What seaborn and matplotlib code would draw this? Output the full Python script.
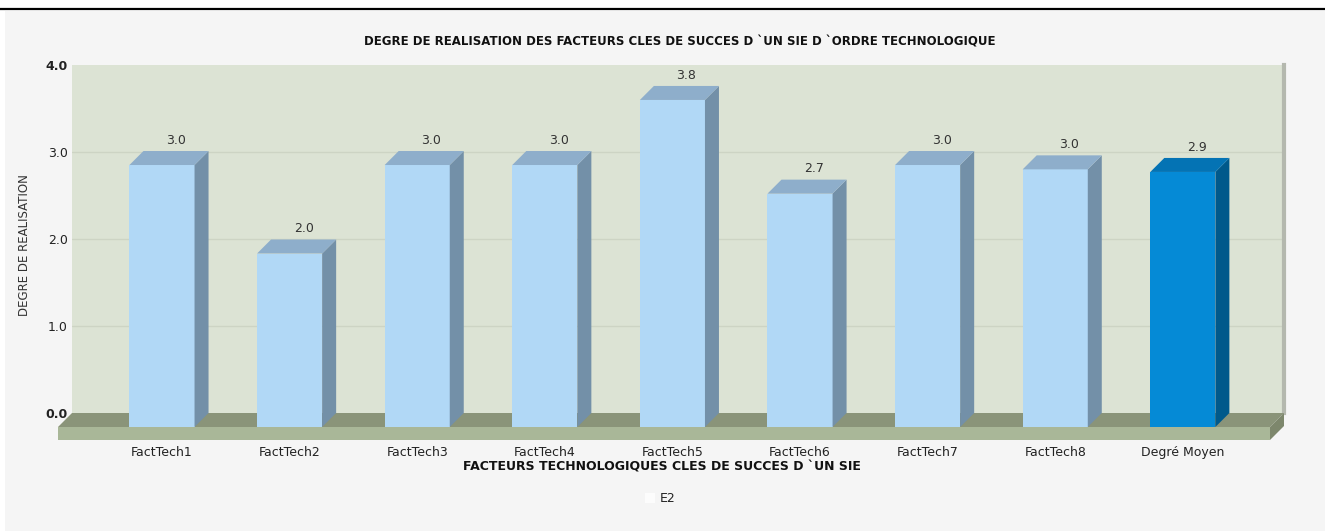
import matplotlib
matplotlib.use("Agg")
import matplotlib.pyplot as plt
import seaborn as sns
from matplotlib.patches import Polygon, Rectangle, Patch
from matplotlib.lines import Line2D

# ---- data ----
categories = ["FactTech1", "FactTech2", "FactTech3", "FactTech4", "FactTech5",
              "FactTech6", "FactTech7", "FactTech8", "Degré Moyen"]
values = [3.02, 2.00, 3.02, 3.02, 3.77, 2.69, 3.02, 2.97, 2.94]
y_ticks = [0, 1, 2, 3, 4]
y_tick_labels = ["0.0", "1.0", "2.0", "3.0", "4.0"]
series_name = "E2"
title = "DEGRE DE REALISATION DES FACTEURS CLES DE SUCCES D `UN SIE D `ORDRE TECHNOLOGIQUE"
x_title = "FACTEURS TECHNOLOGIQUES CLES DE SUCCES D `UN SIE"
y_title = "DEGRE DE REALISATION"

# ---- styling ----
W, H = 1325, 531
BAR_FRONT, BAR_SIDE, BAR_TOP = "#b1d8f6", "#7390a8", "#8eaecb"
AVG_FRONT, AVG_SIDE, AVG_TOP = "#058ad6", "#00598b", "#0473b4"
WALL = "#dce3d4"
GRID = "#cdd4c4"
FLOOR_TOP, FLOOR_FRONT, FLOOR_SIDE = "#8a9479", "#a9b798", "#7d876c"
NARROW = ["Liberation Sans Narrow", "DejaVu Sans"]

sns.set_theme(style="white")
plt.rcParams["font.family"] = ["DejaVu Sans"]


def box(left, top, right, bottom):
    """Figure-fraction rectangle from pixel edges."""
    return [left / W, 1 - bottom / H, (right - left) / W, (bottom - top) / H]


fig = plt.figure(figsize=(W / 100, H / 100), dpi=100)
fig.patch.set_facecolor("white")
fig.patches.append(Rectangle((5 / W, 0), 1, 1 - 11 / H, transform=fig.transFigure,
                             facecolor="#f5f5f5", edgecolor="none", zorder=-10))
fig.lines.append(Line2D([0, 1], [1 - 8.5 / H] * 2, transform=fig.transFigure,
                        color="black", lw=1.6))

n = len(categories)
x_lo, x_hi = -0.815, 8.683
px_per_cat = (1270 - 58) / (x_hi - x_lo)
px_per_unit = 86.75
depth_px = 14
dx = depth_px / px_per_cat
dy = depth_px / px_per_unit
floor_h = 13 / px_per_unit

# back wall (offset by the depth)
ax_back = fig.add_axes(box(58 + depth_px, 65, 1270 + depth_px, 427 - depth_px))
ax_back.set_facecolor(WALL)
ax_back.set_xlim(x_lo, x_hi)
ax_back.set_ylim(0, 4)
ax_back.set_xticks([])
ax_back.set_yticks(y_ticks)
ax_back.set_yticklabels(y_tick_labels, fontsize=9, color="#222222")
for lbl in (ax_back.get_yticklabels()[0], ax_back.get_yticklabels()[-1]):
    lbl.set_fontweight("bold")
ax_back.tick_params(axis="y", length=0, pad=3)
for v in y_ticks[1:-1]:
    ax_back.axhline(v, color=GRID, lw=1, zorder=0)
for s in ("top", "left", "bottom"):
    ax_back.spines[s].set_visible(False)
ax_back.spines["right"].set_color("#b4b8ae")
ax_back.spines["right"].set_linewidth(3)

# front plane with the bars
ax = fig.add_axes(box(58, 80, 1270, 440))
ax.set_facecolor("none")
for s in ax.spines.values():
    s.set_visible(False)

fronts = [BAR_FRONT] * (n - 1) + [AVG_FRONT]
sides = [BAR_SIDE] * (n - 1) + [AVG_SIDE]
tops = [BAR_TOP] * (n - 1) + [AVG_TOP]

sns.barplot(x=categories, y=values, hue=categories, palette=fronts, legend=False,
            saturation=1, width=0.51, linewidth=0, ax=ax, zorder=3)
ax.set_xlim(x_lo, x_hi)
ax.set_ylim(-floor_h, 4)
ax.set_yticks([])
ax.set_xlabel("")
ax.set_ylabel("")
ax.tick_params(axis="x", length=0, pad=4, labelsize=9, labelcolor="#222222")

# floor slab
ax.add_patch(Polygon([(x_lo, 0), (x_lo + dx, dy), (x_hi + dx, dy), (x_hi, 0)],
                     closed=True, facecolor=FLOOR_TOP, edgecolor="none",
                     zorder=1, clip_on=False))
ax.add_patch(Rectangle((x_lo, -floor_h), x_hi - x_lo, floor_h,
                       facecolor=FLOOR_FRONT, edgecolor="none", zorder=1, clip_on=False))
ax.add_patch(Polygon([(x_hi, -floor_h), (x_hi, 0), (x_hi + dx, dy), (x_hi + dx, dy - floor_h)],
                     closed=True, facecolor=FLOOR_SIDE, edgecolor="none",
                     zorder=1, clip_on=False))

# 3D faces and value labels
for i, patch in enumerate(ax.patches[:n]):
    x0, w, h = patch.get_x(), patch.get_width(), patch.get_height()
    ax.add_patch(Polygon([(x0 + w, 0), (x0 + w + dx, dy), (x0 + w + dx, h + dy), (x0 + w, h)],
                         closed=True, facecolor=sides[i], edgecolor="none",
                         zorder=3, clip_on=False))
    ax.add_patch(Polygon([(x0, h), (x0 + dx, h + dy), (x0 + w + dx, h + dy), (x0 + w, h)],
                         closed=True, facecolor=tops[i], edgecolor="none",
                         zorder=3, clip_on=False))
    ax.annotate(f"{values[i]:.1f}", (x0 + w / 2 + dx, h + dy), xytext=(0, 3),
                textcoords="offset points", ha="center", va="bottom",
                fontsize=9, color="#333333", annotation_clip=False)

# titles
fig.text(680 / W, 1 - 42 / H, title, ha="center", va="center", fontsize=8.5,
         fontweight="bold", family=NARROW, color="#111111")
fig.text(662 / W, 1 - 467 / H, x_title, ha="center", va="center", fontsize=9,
         fontweight="bold", family=NARROW, color="#111111")
fig.text(25 / W, 1 - 245 / H, y_title, ha="center", va="center", rotation=90,
         fontsize=8.5, color="#333333")

# legend
fig.legend(handles=[Patch(facecolor="#fcfcfc", edgecolor="none", label=series_name)],
           loc="center", bbox_to_anchor=(660 / W, 1 - 499 / H), frameon=False,
           fontsize=9, handlelength=0.8, handleheight=0.8, handletextpad=0.4,
           labelcolor="#222222")

fig.savefig("out.png", dpi=100, facecolor=fig.get_facecolor())
